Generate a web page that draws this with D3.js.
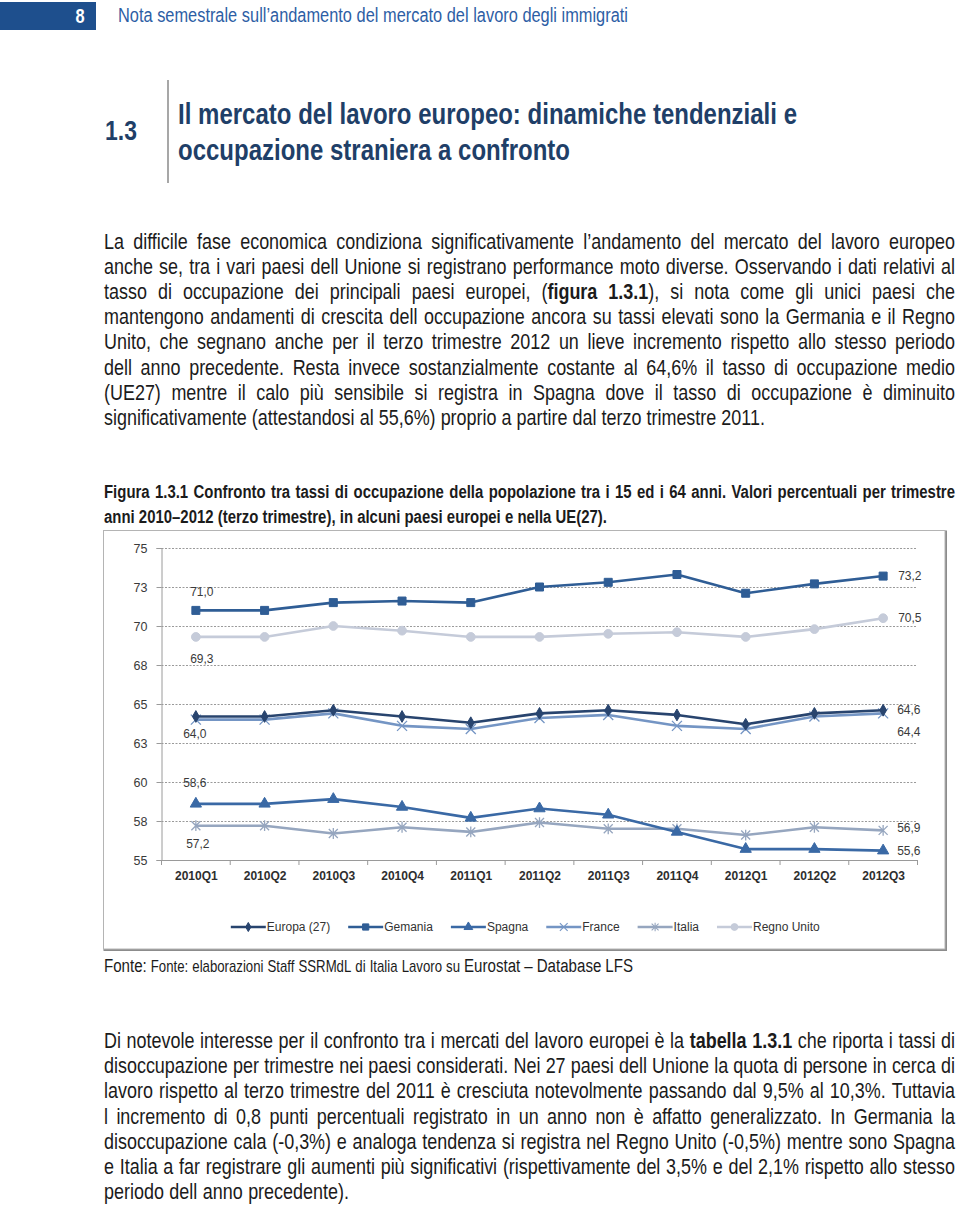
<!DOCTYPE html>
<html><head><meta charset="utf-8">
<script src="https://cdn.jsdelivr.net/npm/d3@7"></script>
<style>
html,body{margin:0;padding:0;background:#fff;}
svg{display:block;}
</style>
</head><body>
<svg id="page" width="960" height="1206"></svg>
<script>
// ---------------- DATA ----------------
const categories = ["2010Q1","2010Q2","2010Q3","2010Q4","2011Q1","2011Q2","2011Q3","2011Q4","2012Q1","2012Q2","2012Q3"];
const europa27   = [64.2, 64.2, 64.6, 64.2, 63.8, 64.4, 64.6, 64.3, 63.7, 64.4, 64.6];
const germania   = [71.0, 71.0, 71.5, 71.6, 71.5, 72.5, 72.8, 73.3, 72.1, 72.7, 73.2];
const spagna     = [58.6, 58.6, 58.9, 58.4, 57.7, 58.3, 57.9, 56.8, 55.7, 55.7, 55.6];
const france     = [64.0, 64.0, 64.4, 63.6, 63.4, 64.1, 64.3, 63.6, 63.4, 64.2, 64.4];
const italia     = [57.2, 57.2, 56.7, 57.1, 56.8, 57.4, 57.0, 57.0, 56.6, 57.1, 56.9];
const regnoUnito = [69.3, 69.3, 70.0, 69.7, 69.3, 69.3, 69.5, 69.6, 69.3, 69.8, 70.5];
const seriesNames = ["Europa (27)","Germania","Spagna","France","Italia","Regno Unito"];
const legendLabels = ["Europa (27)","Gemania","Spagna","France","Italia","Regno Unito"];
const yTickValues = [55, 57.5, 60, 62.5, 65, 67.5, 70, 72.5, 75];
const yTickLabels = ["55","58","60","63","65","68","70","73","75"];

// ---------------- STYLE ----------------
const seriesStyle = {
  "Europa (27)": {color:"#28446e", marker:"diamond"},
  "Germania":    {color:"#2f5d95", marker:"square"},
  "Spagna":      {color:"#3a69a5", marker:"triangle"},
  "France":      {color:"#7495c4", marker:"x"},
  "Italia":      {color:"#96a6bf", marker:"star"},
  "Regno Unito": {color:"#c5cbd9", marker:"circle"}
};
// data label placement: [series, index, dx, dy, anchor]
const labelPlacement = [
  ["Germania",0,6,-14,"middle"],["Germania",10,15,4,"start"],
  ["Regno Unito",0,6,26,"middle"],["Regno Unito",10,15,4,"start"],
  ["France",0,-1,18,"middle"],["France",10,14,23,"start"],
  ["Europa (27)",10,14,4,"start"],
  ["Spagna",0,-1,-17,"middle"],["Spagna",10,14,4,"start"],
  ["Italia",0,2,22,"middle"],["Italia",10,14,2,"start"]
];

const svg = d3.select("#page");
const seriesData = {
  "Europa (27)": europa27, "Germania": germania, "Spagna": spagna,
  "France": france, "Italia": italia, "Regno Unito": regnoUnito
};

// ---------------- FONT helpers ----------------
function textWidth(str, size, weight, family){
  const t = svg.append("text").attr("font-family",family).attr("font-size",size)
    .attr("font-weight",weight).text(str);
  const w = t.node().getComputedTextLength(); t.remove(); return w;
}
const narrowW = textWidth("abcdefghijklmnopqrstuvwxyz abcdefghij","40px","normal","'Liberation Sans Narrow'");
const sansW = textWidth("abcdefghijklmnopqrstuvwxyz abcdefghij","40px","normal","'Liberation Sans'");
const hasNarrow = narrowW < sansW*0.92;
const NF = hasNarrow ? "'Liberation Sans Narrow','Arial Narrow',sans-serif" : "'Liberation Sans',Arial,sans-serif";
const SQ = hasNarrow ? 1 : 0.82;

function parseLine(str, size){
  return str.split("**").map((t,i)=>({t, bold: i%2===1, size}));
}
function buildWords(parts){
  const words = []; let cur = [];
  parts.forEach(p=>{
    p.t.split(" ").forEach((f,k)=>{
      if(k>0){ if(cur.length) words.push(cur); cur=[]; }
      if(f.length) cur.push({t:f, bold:p.bold, size:p.size});
    });
  });
  if(cur.length) words.push(cur);
  return words;
}
const meas = svg.append("g").attr("opacity",0);
function wordWidth(w, k){
  const t = meas.append("text").attr("font-family",NF);
  w.forEach(p=> t.append("tspan").attr("font-weight",p.bold?"bold":"normal").attr("font-size",(p.size*k)+"px").text(p.t));
  const v = t.node().getComputedTextLength()*SQ; t.remove(); return v;
}
function naturalWidth(parts, k){
  const words = buildWords(parts);
  const sz = d3.mean(parts, p=>p.size);
  return d3.sum(words, w=>wordWidth(w,k)) + (words.length-1)*0.278*sz*k*SQ;
}
function fitK(parts, target){ return target / naturalWidth(parts, 1); }
function layoutLine(g, line, color, k){
  const words = buildWords(line.parts);
  const nodes = words.map(w=>{
    const t = g.append("text").attr("font-family", NF).attr("fill", color);
    w.forEach(p=> t.append("tspan").attr("font-weight", p.bold?"bold":"normal")
      .attr("font-size", (p.size*k)+"px").text(p.t));
    return {t, wd: t.node().getComputedTextLength()*SQ};
  });
  const sum = d3.sum(nodes, n=>n.wd);
  const gap = nodes.length>1 ? (line.x1 - line.x0 - sum)/(nodes.length-1) : 0;
  let x = line.x0;
  nodes.forEach(n=>{ n.t.attr("transform", `translate(${x},${line.y}) scale(${SQ},1)`); x += n.wd + gap; });
}
function paragraph(g, lines, y0, step, x0, x1, lastX1, size, color, kOverride){
  const parsed = lines.map(s=>parseLine(s,size));
  const k = kOverride || fitK(parsed[parsed.length-1], lastX1 - x0);
  parsed.forEach((p,i)=> layoutLine(g,{y:y0+i*step,x0,x1:(i===parsed.length-1?lastX1:x1),parts:p},color,k));
  return k;
}

// ---------------- PAGE HEADER ----------------
svg.append("rect").attr("x",0).attr("y",2).attr("width",96).attr("height",28).attr("fill","#1e4f8d");
svg.append("text").attr("transform",`translate(80,23) scale(${SQ},1)`).attr("text-anchor","middle")
  .attr("font-family",NF).attr("font-weight","bold").attr("font-size","20px").attr("fill","#fff").text("8");
paragraph(svg.append("g"),["Nota semestrale sull’andamento del mercato del lavoro degli immigrati"],22,0,118,628,628,17,"#2d5ea5");

// section title
svg.append("text").attr("transform",`translate(105,140) scale(${SQ},1)`).attr("font-family",NF).attr("font-weight","bold")
  .attr("font-size","28px").attr("fill","#1f3f68").text("1.3");
svg.append("line").attr("x1",168).attr("x2",168).attr("y1",80).attr("y2",183)
  .attr("stroke","#8a8a8a").attr("stroke-width",1.5);
paragraph(svg.append("g"),["**Il mercato del lavoro europeo: dinamiche tendenziali e**","**occupazione straniera a confronto**"],124,36,178,797,570,29,"#1f3f68");

// ---------------- BODY TEXT ----------------
const para1 = [
  "La difficile fase economica condiziona significativamente l’andamento del mercato del lavoro europeo",
  "anche se, tra i vari paesi dell Unione si registrano performance moto diverse. Osservando i dati relativi al",
  "tasso di occupazione dei principali paesi europei, (**figura 1.3.1**), si nota come gli unici paesi che",
  "mantengono andamenti di crescita dell occupazione ancora su tassi elevati sono la Germania e il Regno",
  "Unito, che segnano anche per il terzo trimestre 2012 un lieve incremento rispetto allo stesso periodo",
  "dell anno precedente. Resta invece sostanzialmente costante al 64,6% il tasso di occupazione medio",
  "(UE27) mentre il calo più sensibile si registra in Spagna dove il tasso di occupazione è diminuito",
  "significativamente (attestandosi al 55,6%) proprio a partire dal terzo trimestre 2011."
];
const caption = [
  "**Figura 1.3.1 Confronto tra tassi di occupazione della popolazione tra i 15 ed i 64 anni. Valori percentuali per trimestre**",
  "**anni 2010–2012 (terzo trimestre), in alcuni paesi europei e nella UE(27).**"
];
const para2 = [
  "Di notevole interesse per il confronto tra i mercati del lavoro europei è la **tabella 1.3.1** che riporta i tassi di",
  "disoccupazione per trimestre nei paesi considerati. Nei 27 paesi dell Unione la quota di persone in cerca di",
  "lavoro rispetto al terzo trimestre del 2011 è cresciuta notevolmente passando dal 9,5% al 10,3%. Tuttavia",
  "l incremento di 0,8 punti percentuali registrato in un anno non è affatto generalizzato. In Germania la",
  "disoccupazione cala (-0,3%) e analoga tendenza si registra nel Regno Unito (-0,5%) mentre sono Spagna",
  "e Italia a far registrare gli aumenti più significativi (rispettivamente del 3,5% e del 2,1% rispetto allo stesso",
  "periodo dell anno precedente)."
];
const body = svg.append("g");
const TXT = "#1b1b1b";
const kBody = paragraph(body, para1, 249, 25.1, 104, 955, 765, 18, TXT);
paragraph(body, caption, 498, 25, 104, 955, 607, 18, TXT);
const fonteParts = [
  {t:"Fonte:",bold:false,size:16},{t:" Fonte: elaborazioni Staff SSRMdL di Italia Lavoro su",bold:false,size:14},
  {t:" Eurostat – Database LFS",bold:false,size:16}];
layoutLine(body,{y:972,x0:104,x1:633,parts:fonteParts},TXT, fitK(fonteParts, 633-104));
paragraph(body, para2, 1048, 25.17, 104, 955, 349, 18, TXT, kBody);

// ---------------- CHART ----------------
const box = {x0:103.5, y0:530.5, x1:945, y1:949};
svg.append("rect").attr("x",box.x0+1).attr("y",box.y0+1).attr("width",box.x1-box.x0).attr("height",box.y1-box.y0)
  .attr("fill","none").attr("stroke","#8c8c8c").attr("stroke-width",2);
svg.append("rect").attr("x",box.x0).attr("y",box.y0).attr("width",box.x1-box.x0).attr("height",box.y1-box.y0)
  .attr("fill","#fff").attr("stroke","#b4b4b4").attr("stroke-width",1);

const plot = {l:161.5, r:917.5, t:548, b:860};
const x = d3.scalePoint().domain(categories).range([plot.l, plot.r]).padding(0.5);
const xb = d3.scaleBand().domain(categories).range([plot.l, plot.r]);
const y = d3.scaleLinear().domain([55,75]).range([plot.b, plot.t]);
const CF = "'Liberation Sans',Arial,sans-serif";
const chart = svg.append("g");

// grid
chart.append("g").attr("transform",`translate(${plot.l},0)`)
  .call(d3.axisLeft(y).tickValues(yTickValues).tickSize(-(plot.r-plot.l)).tickFormat(""))
  .call(g=>g.select(".domain").remove())
  .call(g=>g.selectAll(".tick line").attr("stroke","#9a9a9a").attr("stroke-dasharray","2,1.5").attr("stroke-width",1));
// y axis
chart.append("g").attr("transform",`translate(${plot.l},0)`)
  .call(d3.axisLeft(y).tickValues(yTickValues).tickSize(5).tickPadding(9).tickFormat((d,i)=>yTickLabels[i]))
  .call(g=>g.select(".domain").attr("stroke","#9a9a9a"))
  .call(g=>g.selectAll(".tick line").attr("stroke","#9a9a9a"))
  .call(g=>g.selectAll(".tick text").attr("font-family",CF).attr("font-size","12.5px").attr("fill","#3a3a3a"));
// x axis
chart.append("g").attr("transform",`translate(0,${plot.b})`)
  .call(d3.axisBottom(x).tickSize(0).tickPadding(11))
  .call(g=>g.select(".domain").attr("stroke","#9a9a9a"))
  .call(g=>g.selectAll(".tick text").attr("font-family",CF).attr("font-size","12px").attr("fill","#2e2e2e").attr("font-weight","bold").attr("dy","0.71em"));
chart.append("g").selectAll("line").data(categories.map(c=>xb(c)).concat([plot.r])).join("line")
  .attr("x1",d=>d).attr("x2",d=>d).attr("y1",plot.b).attr("y2",plot.b+5).attr("stroke","#9a9a9a");

// markers
function markerPath(type, s){
  switch(type){
    case "diamond": return d3.symbol(d3.symbolDiamond, 40*s)();
    case "square": return d3.symbol(d3.symbolSquare, 64*s)();
    case "triangle": return d3.symbol(d3.symbolTriangle, 55*s)();
    case "circle": return d3.symbol(d3.symbolCircle, 60*s)();
    case "x": { const r=5*Math.sqrt(s); return `M${-r},${-r}L${r},${r}M${-r},${r}L${r},${-r}`; }
    case "star": { const r=4.5*Math.sqrt(s); return `M${-r},${-r}L${r},${r}M${-r},${r}L${r},${-r}M0,${-r*1.2}L0,${r*1.2}`; }
  }
}
const line = d3.line().x((d,i)=>x(categories[i])).y(d=>y(d));
const drawOrder = ["Regno Unito","Italia","France","Spagna","Germania","Europa (27)"];
drawOrder.forEach(name=>{
  const st = seriesStyle[name], vals = seriesData[name];
  const g = chart.append("g");
  g.append("path").attr("d", line(vals)).attr("fill","none").attr("stroke",st.color)
    .attr("stroke-width",2.6).attr("stroke-linejoin","round");
  const open = st.marker==="x"||st.marker==="star";
  g.selectAll("path.m").data(vals).join("path").attr("class","m")
    .attr("transform",(d,i)=>`translate(${x(categories[i])},${y(d)})`)
    .attr("d", markerPath(st.marker,1))
    .attr("fill", open?"none":st.color).attr("stroke", st.color).attr("stroke-width", open?1.3:1);
});
// data labels
const fmt = v => d3.format(".1f")(v).replace(".",",");
chart.append("g").selectAll("text").data(labelPlacement).join("text")
  .attr("x",d=>x(categories[d[1]])+d[2]).attr("y",d=>y(seriesData[d[0]][d[1]])+d[3])
  .attr("text-anchor",d=>d[4]).attr("font-family",CF).attr("font-size","12px").attr("fill","#3a3a3a")
  .text(d=>fmt(seriesData[d[0]][d[1]]));

// legend
const leg = chart.append("g");
const itemW = legendLabels.map(l=> 36 + textWidth(l,"12px","normal",CF));
const gapL = 18;
const totalW = d3.sum(itemW) + gapL*(itemW.length-1);
let lx = (box.x0+box.x1)/2 - totalW/2 + 1;
const ly = 927;
seriesNames.forEach((name,i)=>{
  const st = seriesStyle[name];
  const g = leg.append("g").attr("transform",`translate(${lx},${ly})`);
  g.append("line").attr("x1",0).attr("x2",35).attr("stroke",st.color).attr("stroke-width",2.6);
  const open = st.marker==="x"||st.marker==="star";
  g.append("path").attr("transform","translate(17.5,0)").attr("d",markerPath(st.marker,0.6))
    .attr("fill", open?"none":st.color).attr("stroke",st.color).attr("stroke-width",open?1.1:1);
  g.append("text").attr("x",36).attr("y",4).attr("font-family",CF).attr("font-size","12px")
    .attr("fill","#333").text(legendLabels[i]);
  lx += itemW[i] + gapL;
});
meas.remove();
</script>
</body></html>
